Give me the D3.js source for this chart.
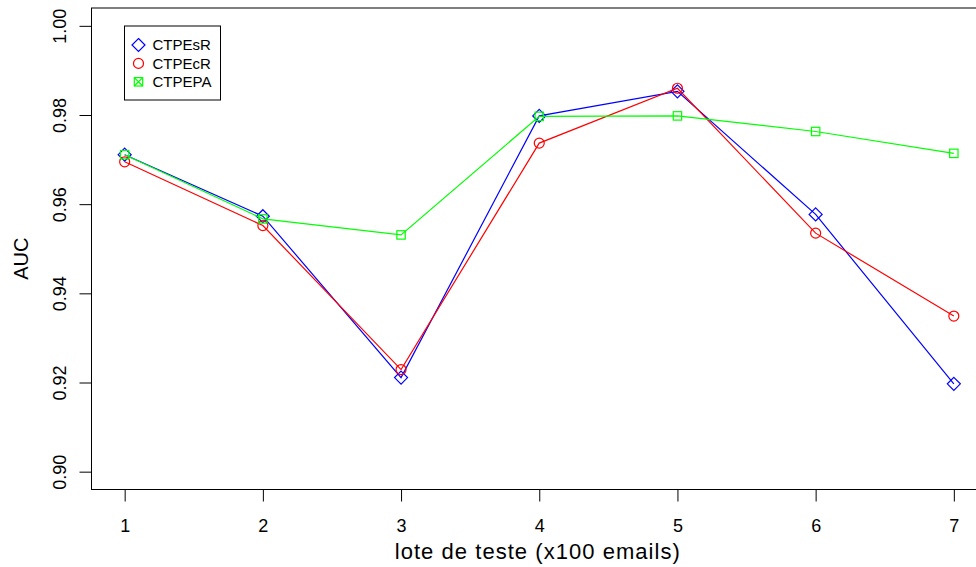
<!DOCTYPE html>
<html>
<head>
<meta charset="utf-8">
<script src="https://cdn.jsdelivr.net/npm/d3@7"></script>
<style>
  html, body { margin: 0; padding: 0; background: #fff; }
  svg { display: block; }
  text { font-family: "Liberation Sans", Arial, Helvetica, sans-serif; fill: #000; }
</style>
</head>
<body>
<svg id="chart" width="976" height="567"></svg>
<script>
// Test batches (x100 emails)
const batches = [1, 2, 3, 4, 5, 6, 7];
// AUC per batch for each configuration
const ctpeSR = [0.9711, 0.9573, 0.9211, 0.9798, 0.9853, 0.9577, 0.9197];
const ctpeCR = [0.9695, 0.9552, 0.9229, 0.9737, 0.9860, 0.9535, 0.9349];
const ctpePA = [0.9711, 0.9567, 0.9531, 0.9797, 0.9798, 0.9763, 0.9714];
const seriesNames = ["CTPEsR", "CTPEcR", "CTPEPA"];
const yTicks = [0.90, 0.92, 0.94, 0.96, 0.98, 1.00];
const xLabel = "lote de teste (x100 emails)";
const yLabel = "AUC";

const svg = d3.select("#chart");

// plot region (R-style 4% padding around the data range)
const x = d3.scaleLinear().domain([0.76, 7.24]).range([91.5, 987]);
const y = d3.scaleLinear().domain([0.896, 1.004]).range([489.5, 8]);

const series = [
  { name: seriesNames[0], values: ctpeSR, color: "#0000ff", shape: "diamond" },
  { name: seriesNames[1], values: ctpeCR, color: "#ff0000", shape: "circle" },
  { name: seriesNames[2], values: ctpePA, color: "#00ff00", shape: "square" }
];

// frame
svg.append("rect")
  .attr("x", x.range()[0]).attr("y", y.range()[1])
  .attr("width", x.range()[1] - x.range()[0])
  .attr("height", y.range()[0] - y.range()[1])
  .attr("fill", "none").attr("stroke", "#000").attr("stroke-width", 1);

// x axis
const xAxis = svg.append("g")
  .attr("transform", `translate(0,${y.range()[0]})`)
  .call(d3.axisBottom(x).tickValues(batches).tickFormat(d3.format("d")).tickSize(12).tickPadding(18));
xAxis.select(".domain").remove();
xAxis.selectAll("text").attr("font-size", 18).style("font-family", "'Liberation Sans', Arial, sans-serif");
xAxis.selectAll("line").attr("stroke", "#000");

// y axis with rotated labels
const yAxis = svg.append("g")
  .attr("transform", `translate(${x.range()[0]},0)`)
  .call(d3.axisLeft(y).tickValues(yTicks).tickFormat(d3.format(".2f")).tickSize(12));
yAxis.select(".domain").remove();
yAxis.selectAll("line").attr("stroke", "#000");
yAxis.selectAll("text")
  .attr("font-size", 18)
  .style("font-family", "'Liberation Sans', Arial, sans-serif")
  .attr("x", 0).attr("dy", 0)
  .attr("text-anchor", "middle")
  .attr("transform", "translate(-26,0) rotate(-90)");

// axis titles
svg.append("text")
  .attr("x", (x.range()[0] + x.range()[1]) / 2 - 2)
  .attr("y", 559)
  .attr("text-anchor", "middle")
  .attr("font-size", 22)
  .attr("textLength", 285)
  .attr("lengthAdjust", "spacing")
  .text(xLabel);

svg.append("text")
  .attr("transform", `translate(28,${(y.range()[0] + y.range()[1]) / 2 + 10}) rotate(-90)`)
  .attr("text-anchor", "middle")
  .attr("font-size", 20)
  .text(yLabel);

// markers
function drawMarker(g, shape, color, cx, cy, legend) {
  if (shape === "diamond") {
    const r = 6.5;
    g.append("path")
      .attr("d", `M${cx},${cy - r}L${cx + r},${cy}L${cx},${cy + r}L${cx - r},${cy}Z`)
      .attr("fill", "none").attr("stroke", color).attr("stroke-width", 1.2);
  } else if (shape === "circle") {
    g.append("circle").attr("cx", cx).attr("cy", cy).attr("r", 5)
      .attr("fill", "none").attr("stroke", color).attr("stroke-width", 1.2);
  } else {
    const h = 4.2;
    g.append("rect").attr("x", cx - h).attr("y", cy - h).attr("width", 2 * h).attr("height", 2 * h)
      .attr("fill", "none").attr("stroke", color).attr("stroke-width", 1.2);
    if (legend) {
      g.append("path")
        .attr("d", `M${cx - h},${cy - h}L${cx + h},${cy + h}M${cx + h},${cy - h}L${cx - h},${cy + h}`)
        .attr("stroke", color).attr("stroke-width", 1.2);
    }
  }
}

const line = d3.line().x((d, i) => x(batches[i])).y(d => y(d));

series.forEach(s => {
  const g = svg.append("g");
  g.append("path")
    .datum(s.values)
    .attr("d", line)
    .attr("fill", "none")
    .attr("stroke", s.color)
    .attr("stroke-width", 1.2);
  s.values.forEach((v, i) => drawMarker(g, s.shape, s.color, x(batches[i]), y(v), false));
});

// legend
const legend = svg.append("g");
legend.append("rect")
  .attr("x", 124.5).attr("y", 26).attr("width", 96).attr("height", 74)
  .attr("fill", "#fff").attr("stroke", "#000").attr("stroke-width", 1);
series.forEach((s, i) => {
  const cy = 45 + i * 18.4;
  drawMarker(legend, s.shape, s.color, 138.5, cy, true);
  legend.append("text")
    .attr("x", 152.5).attr("y", cy).attr("dy", "0.36em")
    .attr("font-size", 15)
    .text(s.name);
});
</script>
</body>
</html>
